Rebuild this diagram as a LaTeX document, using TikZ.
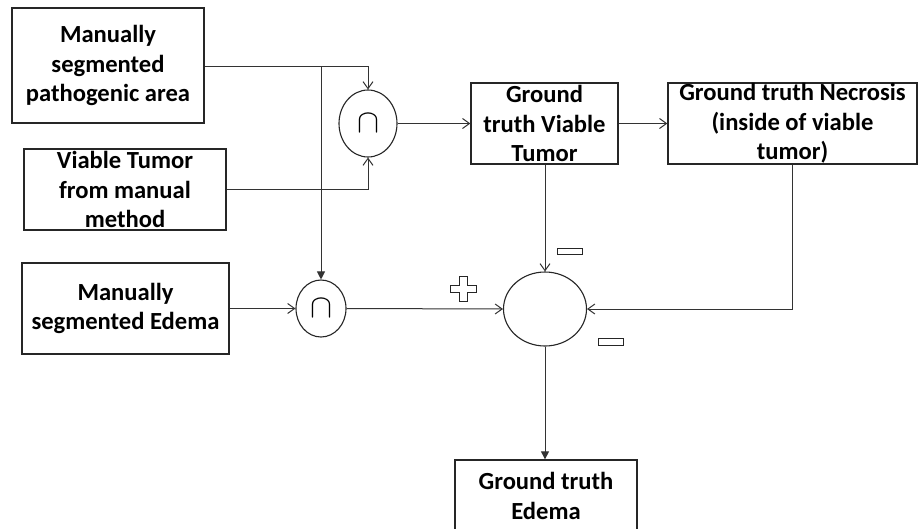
\RequirePackage{fix-cm}
\documentclass[tikz,border=0pt]{standalone}
\usepackage{fontspec}
\setmainfont{Carlito}
\usetikzlibrary{arrows.meta,shapes.geometric}
\begin{document}
\begin{tikzpicture}[x=1pt,y=-1pt,
  lc/.style={draw=black!80,line width=1pt},
  box/.style={draw=black!85,line width=1.3pt,rectangle,inner sep=0pt,align=center,
    font=\fontsize{24.6}{29.5}\selectfont\bfseries},
  opr/.style={draw=black!85,line width=1.1pt,ellipse,inner sep=0pt,
    font=\fontsize{33}{33}\selectfont},
  oarr/.style={lc,-{Straight Barb[length=7pt,width=10pt]}},
  farr/.style={lc,-{Triangle[length=8pt,width=8pt]}},
  sign/.style={draw=black!85,line width=1pt,fill=white}]
\useasboundingbox[fill=white] (0,0) rectangle (920,528);
% boxes
\node[box,minimum width=192pt,minimum height=115pt] (b1) at (108,65.5) {Manually\\segmented\\pathogenic area};
\node[box,minimum width=202pt,minimum height=81pt] (b2) at (125,189.5) {Viable Tumor\\from manual\\method};
\node[box,minimum width=147pt,minimum height=81pt] (b3) at (544.5,123.5) {Ground\\truth Viable\\Tumor};
\node[box,minimum width=249pt,minimum height=81pt] (b4) at (792.5,123.5) {Ground truth Necrosis\\(inside of viable\\tumor)};
\node[box,minimum width=207pt,minimum height=91pt] (b6) at (125.5,308.5) {Manually\\segmented Edema};
\node[box,minimum width=182pt,minimum height=110pt] (b5) at (546,515) {};
\node[font=\fontsize{24.6}{29.5}\selectfont\bfseries,align=center,inner sep=0pt] (t5) at (546,496) {Ground truth\\Edema};
% operators
\node[opr,minimum width=58pt,minimum height=67pt] (c1) at (368,123.5) {$\cap$};
\node[opr,minimum width=50pt,minimum height=57pt] (c2) at (321,308.5) {$\cap$};
\node[opr,minimum width=83pt,minimum height=74pt] (c3) at (545,309) {};
% connectors
\coordinate (j1) at (321,66);
\draw[oarr] (b1.east |- j1) -| (c1.north);
\draw[oarr] (b2.east) -| (c1.south);
\draw[farr] (j1) -- (c2.north);
\draw[oarr] (c1.east) -- (b3.west);
\draw[oarr] (b3.east) -- (b4.west);
\draw[oarr] (b3.south -| c3.north) -- (c3.north);
\draw[oarr] (b4.south) |- (c3.east);
\draw[oarr] (b6.east) -- (c2.west);
\draw[oarr] (c2.east) -- (c3.west);
\draw[farr] (c3.south) -- (b5.north -| c3.south);
% signs
\draw[sign] (557,248) rectangle (582,254);
\draw[sign] (598,338) rectangle (623,345);
\draw[sign] (459,276) -- (467,276) -- (467,285) -- (476,285) -- (476,292) -- (467,292)
  -- (467,301) -- (459,301) -- (459,292) -- (450,292) -- (450,285) -- (459,285) -- cycle;
\end{tikzpicture}
\end{document}
